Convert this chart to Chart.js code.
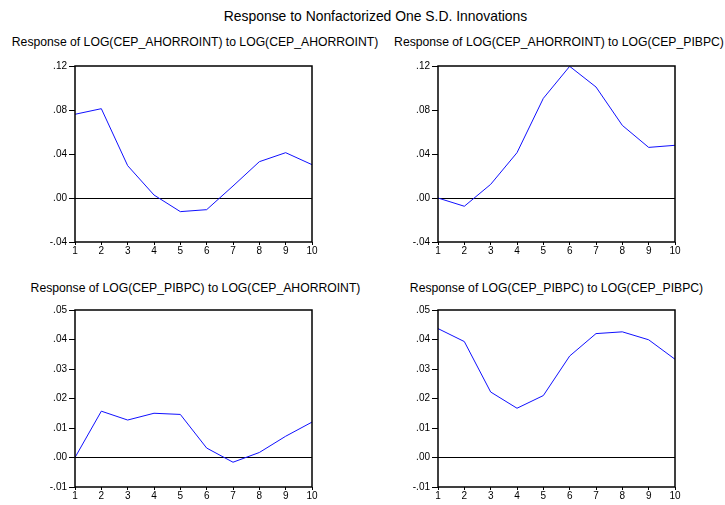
<!DOCTYPE html>
<html>
<head>
<meta charset="utf-8">
<script src="https://cdn.jsdelivr.net/npm/chart.js@4.4.0/dist/chart.umd.min.js"></script>
<style>
  html, body { margin: 0; padding: 0; background: #fff; width: 725px; height: 505px; overflow: hidden; }
  .t { position: absolute; white-space: nowrap; transform: translateX(-50%); font-family: "Liberation Sans", Arial, sans-serif; color: #000; line-height: 13px; }
  canvas { position: absolute; }
</style>
</head>
<body>
<div class="t" style="left:375.5px; top:9.5px; font-size:13.9px;">Response to Nonfactorized One S.D. Innovations</div>
<div class="t" style="left:195px; top:36px; font-size:12.2px;">Response of LOG(CEP_AHORROINT) to LOG(CEP_AHORROINT)</div>
<div class="t" style="left:559px; top:36px; font-size:12.2px;">Response of LOG(CEP_AHORROINT) to LOG(CEP_PIBPC)</div>
<div class="t" style="left:195.5px; top:281.5px; font-size:12.2px;">Response of LOG(CEP_PIBPC) to LOG(CEP_AHORROINT)</div>
<div class="t" style="left:556.5px; top:281.5px; font-size:12.2px;">Response of LOG(CEP_PIBPC) to LOG(CEP_PIBPC)</div>

<canvas id="c1" width="362" height="206" style="left:0px; top:56px;"></canvas>
<canvas id="c2" width="363" height="206" style="left:362px; top:56px;"></canvas>
<canvas id="c3" width="362" height="207" style="left:0px; top:300px;"></canvas>
<canvas id="c4" width="363" height="207" style="left:362px; top:300px;"></canvas>

<script>
// ---- data ----
const periods = ["1", "2", "3", "4", "5", "6", "7", "8", "9", "10"];
const respAhorroToAhorro = [0.0761, 0.0812, 0.0294, 0.0027, -0.0124, -0.0106, 0.0109, 0.0330, 0.0412, 0.0303];
const respAhorroToPib    = [0.0000, -0.0075, 0.0124, 0.0412, 0.0906, 0.1197, 0.1009, 0.0660, 0.0460, 0.0479];
const respPibToAhorro    = [0.0000, 0.0157, 0.0127, 0.0150, 0.0146, 0.0032, -0.0016, 0.0017, 0.0072, 0.0120];
const respPibToPib       = [0.0437, 0.0393, 0.0222, 0.0167, 0.0210, 0.0344, 0.0420, 0.0426, 0.0399, 0.0333];
const topAxisTicks    = [-0.04, 0.00, 0.04, 0.08, 0.12];
const bottomAxisTicks = [-0.01, 0.00, 0.01, 0.02, 0.03, 0.04, 0.05];

Chart.defaults.font.family = '"Liberation Sans", Arial, sans-serif';
Chart.defaults.font.size = 10;
Chart.defaults.color = '#000';

function fmt(v) {
  const s = Math.abs(v).toFixed(2).replace(/^0/, '');
  return (v < -1e-9 ? '-' : '') + s;
}

const framePlugin = {
  id: 'frame',
  afterDraw(chart) {
    const a = chart.chartArea, ctx = chart.ctx;
    ctx.save();
    ctx.strokeStyle = '#000';
    ctx.lineWidth = 1.5;
    ctx.strokeRect(a.left, a.top, a.right - a.left, a.bottom - a.top);
    ctx.restore();
  }
};

function makeChart(id, values, ticks, yAxisWidth, padRight) {
  const step = ticks[1] - ticks[0];
  new Chart(document.getElementById(id), {
    type: 'line',
    data: {
      labels: periods,
      datasets: [{
        data: values,
        borderColor: '#1010ff',
        borderWidth: 1,
        pointRadius: 0,
        tension: 0,
        fill: false
      }]
    },
    options: {
      responsive: false,
      animation: false,
      devicePixelRatio: 1,
      layout: { padding: { top: 10, left: 0, right: padRight, bottom: 0 } },
      plugins: { legend: { display: false }, tooltip: { enabled: false }, title: { display: false } },
      scales: {
        x: {
          type: 'category',
          offset: false,
          afterFit: (s) => { s.height = 20; },
          grid: { drawOnChartArea: false, drawTicks: true, tickLength: 3, tickColor: '#000', tickWidth: 1 },
          border: { display: false },
          ticks: { padding: 0, maxRotation: 0, autoSkip: false, color: '#000' }
        },
        y: {
          min: ticks[0],
          max: ticks[ticks.length - 1],
          afterFit: (s) => { s.width = yAxisWidth; },
          afterBuildTicks: (s) => { s.ticks = ticks.map(v => ({ value: v })); },
          grid: {
            drawTicks: true,
            tickLength: 6,
            tickColor: '#000',
            tickWidth: 1,
            lineWidth: 1,
            color: (ctx) => (ctx.tick && Math.abs(ctx.tick.value) < 1e-9) ? '#000' : 'rgba(0,0,0,0)'
          },
          border: { display: false },
          ticks: { padding: 2, stepSize: step, callback: (v) => fmt(v), color: '#000' }
        }
      }
    },
    plugins: [framePlugin]
  });
}

makeChart('c1', respAhorroToAhorro, topAxisTicks, 75, 50);
makeChart('c2', respAhorroToPib, topAxisTicks, 76, 50);
makeChart('c3', respPibToAhorro, bottomAxisTicks, 75, 50);
makeChart('c4', respPibToPib, bottomAxisTicks, 76, 50);
</script>
</body>
</html>
